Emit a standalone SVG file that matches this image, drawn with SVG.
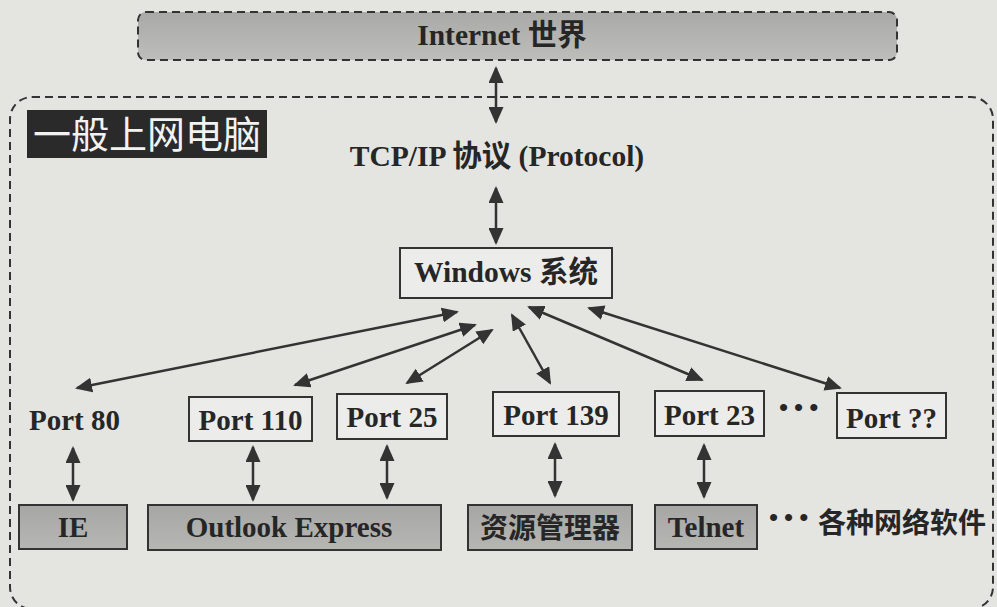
<svg xmlns="http://www.w3.org/2000/svg" width="997" height="607" viewBox="0 0 997 607">
<defs>
<linearGradient id="gInet" x1="0" y1="0" x2="0" y2="1">
<stop offset="0" stop-color="#a9a9a7"/>
<stop offset="1" stop-color="#bdbdba"/>
</linearGradient>
<linearGradient id="gApp" x1="0" y1="0" x2="0" y2="1">
<stop offset="0" stop-color="#a6a6a4"/>
<stop offset="1" stop-color="#b6b6b3"/>
</linearGradient>
<marker id="ah" viewBox="0 0 17 15" markerUnits="userSpaceOnUse" markerWidth="17" markerHeight="15" refX="15" refY="7.5" orient="auto-start-reverse">
<path d="M0,0 L17,7.5 L0,15 z" fill="#333"/>
</marker>
</defs>
<style>
.lat{font-family:"Liberation Serif","Times New Roman",serif;font-weight:bold;font-size:29px;fill:#262626}
.cjk{font-family:"Noto Sans CJK SC",sans-serif;font-weight:bold;font-size:28px;fill:#262626}
.mix{font-family:"Liberation Serif","Noto Sans CJK SC",serif;font-weight:bold;font-size:29.5px;fill:#262626}
.port{fill:#ececea;stroke:#333;stroke-width:2}
.app{fill:url(#gApp);stroke:#333;stroke-width:2}
.dash{fill:none;stroke:#333;stroke-width:2;stroke-dasharray:8 5}
.dots{font-family:"Liberation Sans",Arial,sans-serif;font-size:26px;fill:#262626;letter-spacing:6px}
.conn line{stroke:#333;stroke-width:2.5;marker-start:url(#ah);marker-end:url(#ah)}
</style>
<rect x="0" y="0" width="997" height="607" fill="#e4e4e0"/>

<g id="computer">
<rect class="dash" x="10" y="97" width="983" height="512" rx="22" ry="22"/>
<rect x="27" y="110" width="240" height="48" fill="#2a2a2a"/>
<text x="147" y="148" text-anchor="middle" font-family="Noto Sans CJK SC, sans-serif" font-size="38" fill="#f2f2f2">一般上网电脑</text>
</g>

<g id="internet">
<rect x="138" y="12" width="759" height="48" rx="8" ry="8" fill="url(#gInet)" stroke="#333" stroke-width="2" stroke-dasharray="8 5"/>
<text class="mix" x="502" y="45" text-anchor="middle">Internet 世界</text>
</g>

<g id="tcpip">
<text class="mix" x="497" y="166" text-anchor="middle">TCP/IP 协议 (Protocol)</text>
</g>

<g id="windows">
<rect class="port" x="400" y="248" width="212" height="50"/>
<text class="mix" x="506" y="282" text-anchor="middle">Windows 系统</text>
</g>

<g id="port80">
<text class="lat" x="29" y="430">Port 80</text>
</g>
<g id="port110">
<rect class="port" x="189" y="397" width="123" height="44"/>
<text class="lat" x="250.5" y="430" text-anchor="middle">Port 110</text>
</g>
<g id="port25">
<rect class="port" x="337" y="394" width="110" height="45"/>
<text class="lat" x="392" y="427" text-anchor="middle">Port 25</text>
</g>
<g id="port139">
<rect class="port" x="493" y="392" width="126" height="44"/>
<text class="lat" x="556" y="425" text-anchor="middle">Port 139</text>
</g>
<g id="port23">
<rect class="port" x="655" y="391" width="109" height="45"/>
<text class="lat" x="709.5" y="425" text-anchor="middle">Port 23</text>
</g>
<g id="portdots">
<text class="dots" x="779" y="416">•••</text>
</g>
<g id="portqq">
<rect class="port" x="837" y="393" width="109" height="45"/>
<text class="lat" x="891.5" y="428" text-anchor="middle">Port ??</text>
</g>

<g id="ie">
<rect class="app" x="19" y="505" width="108" height="44"/>
<text class="lat" x="73" y="537" text-anchor="middle">IE</text>
</g>
<g id="outlook">
<rect class="app" x="148" y="505" width="293" height="45"/>
<text class="lat" x="289" y="537" text-anchor="middle">Outlook Express</text>
</g>
<g id="explorer">
<rect class="app" x="468" y="505" width="164" height="45"/>
<text class="cjk" x="550" y="538" text-anchor="middle">资源管理器</text>
</g>
<g id="telnet">
<rect class="app" x="655" y="505" width="102" height="44"/>
<text class="lat" x="706" y="537" text-anchor="middle">Telnet</text>
</g>
<g id="others">
<text class="dots" x="769" y="526">•••</text>
<text class="cjk" x="818" y="533">各种网络软件</text>
</g>

<g id="connectors" class="conn">
<line x1="496" y1="68" x2="496" y2="122"/>
<line x1="496" y1="188" x2="496" y2="243"/>
<line x1="457" y1="312" x2="77" y2="388"/>
<line x1="475" y1="325" x2="295" y2="385"/>
<line x1="492" y1="330" x2="407" y2="383"/>
<line x1="512" y1="315" x2="550" y2="383"/>
<line x1="529" y1="307" x2="702" y2="380"/>
<line x1="589" y1="308" x2="840" y2="388"/>
<line x1="73" y1="448" x2="73" y2="500"/>
<line x1="253" y1="447" x2="253" y2="500"/>
<line x1="387" y1="446" x2="387" y2="498"/>
<line x1="555" y1="444" x2="555" y2="496"/>
<line x1="704" y1="445" x2="704" y2="497"/>
</g>
</svg>
